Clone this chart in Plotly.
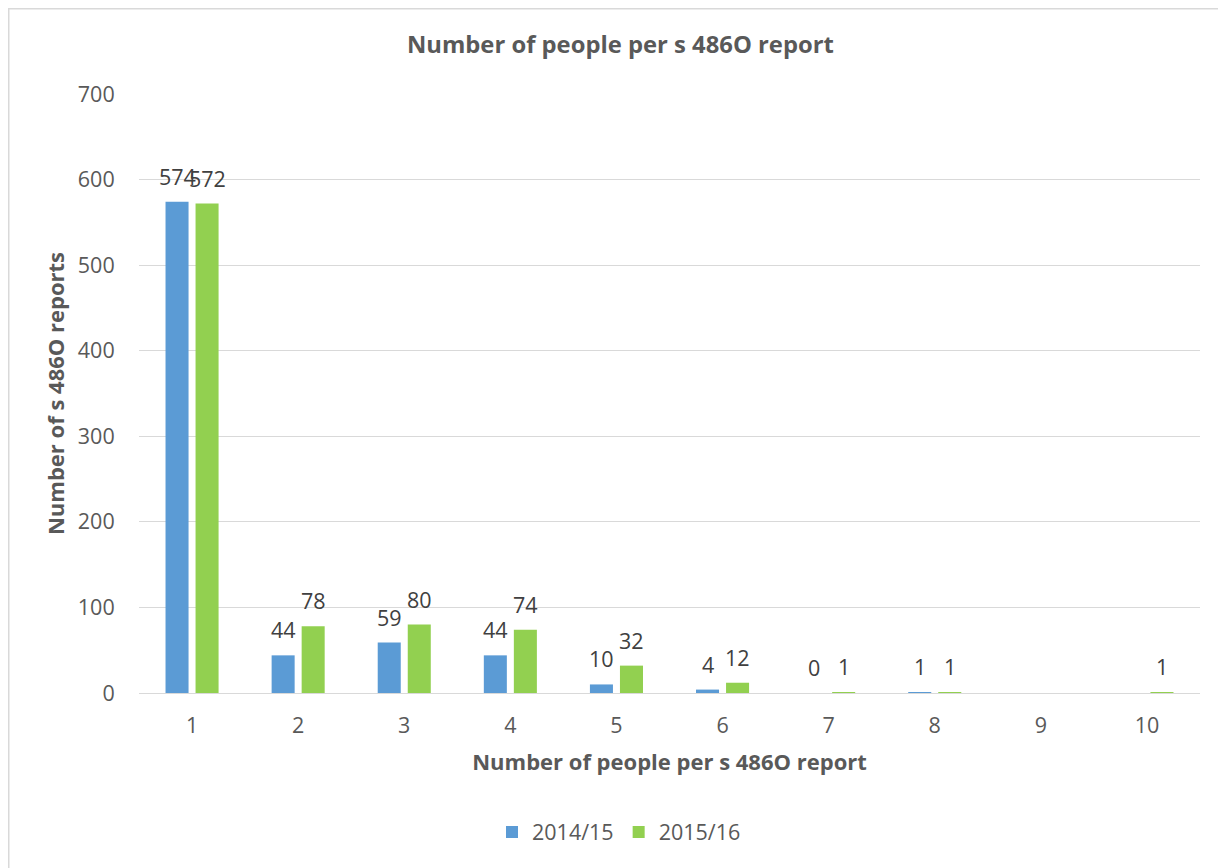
import plotly.graph_objects as go

categories = [1, 2, 3, 4, 5, 6, 7, 8, 9, 10]
series_2014 = [574, 44, 59, 44, 10, 4, 0, 1, None, None]
series_2015 = [572, 78, 80, 74, 32, 12, 1, 1, None, 1]
y_ticks = [0, 100, 200, 300, 400, 500, 600, 700]

FONT = "'Open Sans', sans-serif"
TXT = "#595959"
LBL = "#404040"
FS = 21.5

fig = go.Figure()
fig.add_trace(go.Bar(
    x=categories, y=series_2014, name="2014/15",
    marker=dict(color="#5B9BD5", line=dict(width=0)),
))
fig.add_trace(go.Bar(
    x=categories, y=series_2015, name="2015/16",
    marker=dict(color="#92D050", line=dict(width=0)),
))

# data labels above each bar (offset to the bar's slot within its group)
annotations = []
for vals, shift in ((series_2014, -15), (series_2015, 15)):
    for cat, v in zip(categories, vals):
        if v is None:
            continue
        annotations.append(dict(
            x=cat, y=v, xref="x", yref="y", text=str(v), showarrow=False,
            xanchor="center", yanchor="bottom", xshift=shift, yshift=9,
            font=dict(size=FS, color=LBL, family=FONT),
        ))

# the page body has an 8px margin; figure coords = page coords - 8
W, H = 1226, 868
L, R, T, B = 131, 34, 86, 183
pw, ph = W - L - R, H - T - B

def px(xf):
    return (xf - L) / pw

def py(yf):
    return (H - B - yf) / ph

fig.update_layout(
    width=W, height=H,
    margin=dict(l=L, r=R, t=T, b=B, autoexpand=False),
    paper_bgcolor="white", plot_bgcolor="white",
    font=dict(family=FONT, color=TXT, size=FS),
    barmode="group", bargap=0.434, bargroupgap=0.233,
    title=dict(text="<b>Number of people per s 486O report</b>",
               x=0.4995, xanchor="center", y=1 - 37 / H, yanchor="middle",
               font=dict(size=23.8, color=TXT, family=FONT)),
    xaxis=dict(
        title=dict(text="<b>Number of people per s 486O report</b>",
                   font=dict(size=22, color=TXT, family=FONT), standoff=16),
        type="linear", range=[0.5, 10.5], tickvals=categories,
        ticktext=[str(c) for c in categories],
        showgrid=False, zeroline=False,
        showline=True, linecolor="#D9D9D9", linewidth=1,
        ticks="outside", ticklen=13, tickcolor="rgba(0,0,0,0)",
        tickfont=dict(size=FS, color=TXT, family=FONT),
    ),
    yaxis=dict(
        title=dict(text="<b>Number of s 486O reports</b>",
                   font=dict(size=22, color=TXT, family=FONT), standoff=7),
        range=[0, 700], tickvals=y_ticks,
        showgrid=True, gridcolor="#D9D9D9", gridwidth=1,
        zeroline=True, zerolinecolor="#D9D9D9", zerolinewidth=1,
        showline=False, ticks="outside", ticklen=19, tickcolor="rgba(0,0,0,0)",
        tickfont=dict(size=FS, color=TXT, family=FONT),
    ),
    legend=dict(orientation="h", x=0.5 + (611 - (L + pw / 2)) / pw, xanchor="center",
                y=py(824), yanchor="middle",
                font=dict(size=FS, color=TXT, family=FONT),
                traceorder="normal"),
    annotations=annotations,
    shapes=[
        dict(type="line", xref="paper", yref="paper",
             x0=px(0), x1=px(W), y0=py(0.75), y1=py(0.75),
             line=dict(color="#D9D9D9", width=1.5)),
        dict(type="line", xref="paper", yref="paper",
             x0=px(0.75), x1=px(0.75), y0=py(0), y1=py(H),
             line=dict(color="#D9D9D9", width=1.5)),
    ],
)

fig.write_html("out.html")
